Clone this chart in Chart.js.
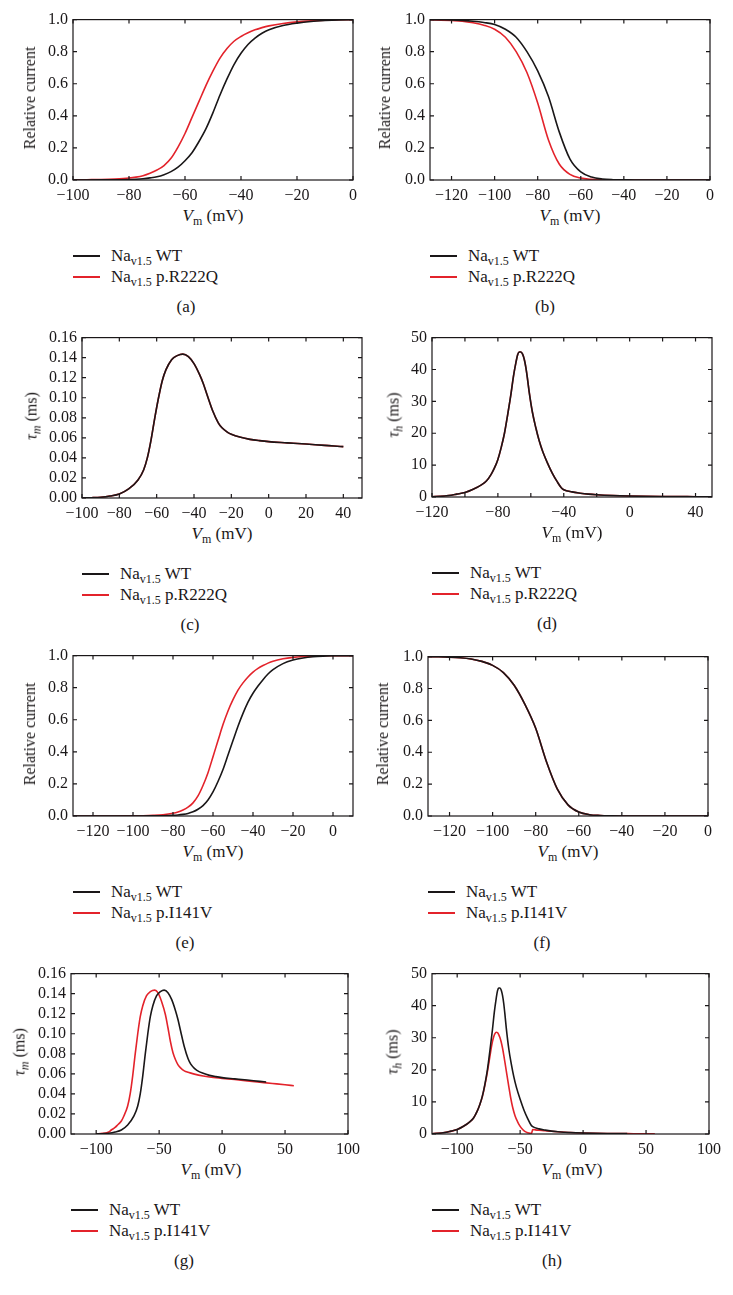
<!DOCTYPE html>
<html>
<head>
<meta charset="utf-8">
<script src="https://cdn.jsdelivr.net/npm/chart.js@4.4.1/dist/chart.umd.min.js"></script>
<style>
body { margin: 0; background: #fff; }
#page { position: relative; width: 733px; height: 1295px; overflow: hidden; font-family: "Liberation Serif", "DejaVu Serif", serif; color: #1a1718; }
canvas { position: absolute; }
.t { position: absolute; white-space: nowrap; font-size: 17px; line-height: 20px; }
.t.yt { font-size: 16px; }
.sub { font-size: 12px; position: relative; top: 4px; }
.ln { position: absolute; height: 1.6px; width: 27px; }
</style>
</head>
<body>
<div id="page"></div>
<script>
// ---- data ----
// (a) activation, WT vs p.R222Q
const vA = [-100,-95,-90,-85,-80,-77.5,-75,-72.5,-70,-67.5,-65,-62.5,-60,-57.5,-55,-52.5,-50,-47.5,-45,-42.5,-40,-37.5,-35,-32.5,-30,-25,-20,-15,-10,-5,0];
const actWT_a = [0,0.0003,0.0008,0.0015,0.003,0.005,0.008,0.013,0.02,0.033,0.052,0.08,0.12,0.17,0.24,0.32,0.42,0.53,0.63,0.72,0.79,0.845,0.885,0.915,0.937,0.963,0.978,0.988,0.994,0.998,1];
const actR222Q_a = [0.001,0.002,0.003,0.006,0.012,0.018,0.027,0.042,0.062,0.09,0.135,0.205,0.29,0.39,0.49,0.59,0.68,0.76,0.82,0.865,0.895,0.918,0.936,0.95,0.961,0.976,0.986,0.992,0.996,0.999,1];

// (b) inactivation, WT vs p.R222Q
const vB = [-130,-125,-120,-115,-110,-105,-100,-95,-90,-85,-80,-75,-70,-65,-60,-55,-50,-45,-40,-35,-30,-25,-20,-15,-10,-5,0];
const inactWT_b = [1,0.999,0.998,0.995,0.99,0.982,0.97,0.94,0.89,0.8,0.68,0.52,0.3,0.13,0.05,0.018,0.006,0.002,0.001,0,0,0,0,0,0,0,0];
const inactR222Q_b = [0.999,0.997,0.994,0.99,0.98,0.965,0.94,0.89,0.8,0.67,0.48,0.25,0.1,0.035,0.012,0.004,0.001,0,0,0,0,0,0,0,0,0,0];

// (c)/(g) tau_m, WT
const vTmWT = [-100,-95,-90,-85,-80,-75,-70,-67,-65,-63,-61,-59,-57,-55,-52,-49,-46,-43,-40,-37,-35,-33,-30,-27,-25,-22,-20,-15,-10,-5,0,10,20,30,35,40];
const tauMWT = [0,0.0003,0.0008,0.002,0.004,0.009,0.018,0.028,0.040,0.058,0.080,0.100,0.117,0.128,0.138,0.142,0.1435,0.141,0.134,0.123,0.114,0.103,0.087,0.075,0.070,0.0655,0.0635,0.0605,0.0585,0.0572,0.0562,0.0550,0.0538,0.0525,0.0519,0.0512];

// (d)/(h) tau_h, WT
const vThWT = [-120,-115,-110,-105,-100,-95,-90,-87,-84,-82,-80,-78,-76,-74,-72,-70.5,-69,-68,-67,-66,-65,-64,-63,-62,-61,-59,-57,-55,-53,-50,-47,-44,-41.5,-40,-35,-30,-25,-20,-10,0,10,20,30,35,40,50];
const tauHWT = [0.1,0.2,0.45,0.9,1.4,2.4,3.8,5.0,7.2,9.2,11.8,15.5,20,26,32.5,38,42.3,44.6,45.5,45.5,44.8,43.2,40.6,37,33,26.5,21.8,17.8,14.6,10.8,7.5,4.8,2.9,2.3,1.6,1.2,0.9,0.7,0.45,0.3,0.2,0.15,0.12,0.11,0.1,0.08];

// (e) activation, WT vs p.I141V
const vE = [-130,-120,-110,-100,-95,-90,-85,-80,-77.5,-75,-72.5,-70,-67.5,-65,-62.5,-60,-57.5,-55,-52.5,-50,-47.5,-45,-42.5,-40,-37.5,-35,-32.5,-30,-25,-20,-15,-10,-5,0,5,10];
const actWT_e = [0,0,0,0,0,0.0008,0.0018,0.004,0.006,0.01,0.016,0.026,0.042,0.065,0.1,0.15,0.215,0.29,0.38,0.47,0.56,0.64,0.71,0.765,0.81,0.85,0.885,0.912,0.95,0.972,0.985,0.993,0.997,0.999,1,1];
const actI141V_e = [0,0,0,0.001,0.002,0.004,0.008,0.017,0.025,0.037,0.055,0.082,0.125,0.19,0.27,0.37,0.47,0.57,0.655,0.725,0.785,0.83,0.867,0.897,0.92,0.938,0.953,0.965,0.98,0.989,0.994,0.997,0.999,1,1,1];

// (f) inactivation, WT and p.I141V overlap
const inact_f = [1,0.999,0.997,0.993,0.985,0.97,0.945,0.9,0.82,0.7,0.55,0.34,0.17,0.07,0.025,0.008,0.003,0.001,0,0,0,0,0,0,0,0,0];

// (g) tau_m, p.I141V
const vTmI141V = [-100,-95,-90,-88,-85,-83,-80,-78,-75,-73,-71,-69,-67,-65,-63,-60,-57,-53.5,-51,-48,-45,-43,-41,-39,-37,-35,-33,-30,-27,-22,-15,-10,0,10,20,30,40,50,57];
const tauMI141V = [0,0.0006,0.002,0.004,0.0065,0.009,0.013,0.018,0.028,0.040,0.058,0.080,0.100,0.117,0.128,0.138,0.142,0.1435,0.141,0.132,0.119,0.106,0.092,0.081,0.074,0.069,0.066,0.063,0.0615,0.0597,0.0578,0.0568,0.0555,0.0543,0.0530,0.0517,0.0504,0.0491,0.0482];

// (h) tau_h, p.I141V
const vThI141V = [-120,-110,-100,-95,-90,-87,-84,-82,-80,-78,-76,-74,-72.5,-71,-70,-69,-68,-67,-66,-65,-64,-63,-62,-60.5,-59,-57.5,-56,-54,-52,-50.5,-48,-46,-44,-42,-41,-40,-38,-35,-30,-25,-20,-10,0,10,20,30,40,50,57];
const tauHI141V = [0.1,0.45,1.4,2.4,3.8,5.0,7.2,9.2,11.7,15.2,19.4,24.2,27.8,30.3,31.3,31.7,31.6,31,30,28.6,26.8,24.6,22.2,18.4,14.8,11.3,8.4,5.6,3.8,2.7,1.4,0.75,0.4,0.22,0.2,1.35,1.3,1.2,1.0,0.85,0.7,0.45,0.3,0.2,0.15,0.12,0.1,0.08,0.07];

// tick labels
const ticksA = [-100,-80,-60,-40,-20,0];
const ticksB = [-120,-100,-80,-60,-40,-20,0];
const ticksC = [-100,-80,-60,-40,-20,0,20,40];
const ticksD = [-120,-100,-80,-60,-40,-20,0,20,40];
const ticksG = [-100,-50,0,50,100];
const relTicks = [0,0.2,0.4,0.6,0.8,1.0];
const tauMTicks = [0,0.02,0.04,0.06,0.08,0.10,0.12,0.14,0.16];
const tauHTicks = [0,10,20,30,40,50];

// ---- drawing ----
const ink = '#1a1718';
const red = '#e3232b';
const serif = '"Liberation Serif", "DejaVu Serif", serif';
const page = document.getElementById('page');

function pts(xs, ys, maxX) {
    const out = [];
    for (let i = 0; i < xs.length; i++) {
        if (maxX === undefined || xs[i] <= maxX) out.push({ x: xs[i], y: ys[i] });
    }
    return out;
}

function fmtX(v) {
    return v < 0 ? '\u2212' + Math.abs(v) : String(v);
}

// box around the plot with inward tick marks on all four sides
const frame = {
    id: 'frame',
    afterDraw(chart) {
        const { ctx, chartArea: a, scales } = chart;
        ctx.save();
        ctx.strokeStyle = ink;
        ctx.lineWidth = 1.2;
        ctx.strokeRect(a.left, a.top, a.right - a.left, a.bottom - a.top);
        ctx.beginPath();
        scales.x.ticks.forEach(t => {
            const p = scales.x.getPixelForValue(t.value);
            ctx.moveTo(p, a.bottom); ctx.lineTo(p, a.bottom - 4);
            ctx.moveTo(p, a.top); ctx.lineTo(p, a.top + 4);
        });
        scales.y.ticks.forEach(t => {
            const p = scales.y.getPixelForValue(t.value);
            ctx.moveTo(a.left, p); ctx.lineTo(a.left + 4, p);
            ctx.moveTo(a.right, p); ctx.lineTo(a.right - 4, p);
        });
        ctx.stroke();
        ctx.restore();
    }
};

const relTitle = 'Relative current';
const tauMTitle = '<i>\u03c4<span class="sub">m</span></i> (ms)';
const tauHTitle = '<i>\u03c4<span class="sub">h</span></i> (ms)';

const panels = [
    { L: 73, R: 353, T: 15, B: 180, xMin: -100, xMax: 0, xTicks: ticksA, yMax: 1, yTicks: relTicks, yDec: 1,
      yTitle: relTitle, yTitleX: 30, mut: 'p.R222Q', cap: '(a)', capX: 186,
      wt: pts(vA, actWT_a), mu: pts(vA, actR222Q_a) },
    { L: 430, R: 710, T: 15, B: 180, xMin: -130, xMax: 0, xTicks: ticksB, yMax: 1, yTicks: relTicks, yDec: 1,
      yTitle: relTitle, yTitleX: 385, mut: 'p.R222Q', cap: '(b)', capX: 545,
      wt: pts(vB, inactWT_b), mu: pts(vB, inactR222Q_b) },
    { L: 82, R: 362, T: 333, B: 498, xMin: -100, xMax: 50, xTicks: ticksC, yMax: 0.16, yTicks: tauMTicks, yDec: 2,
      yTitle: tauMTitle, yTitleX: 32, mut: 'p.R222Q', cap: '(c)', capX: 190,
      wt: pts(vTmWT, tauMWT), mu: pts(vTmWT, tauMWT) },
    { L: 432, R: 712, T: 333, B: 497, xMin: -120, xMax: 50, xTicks: ticksD, labelEvery: 40, yMax: 50, yTicks: tauHTicks, yDec: 0,
      yTitle: tauHTitle, yTitleX: 394, mut: 'p.R222Q', cap: '(d)', capX: 547,
      wt: pts(vThWT, tauHWT), mu: pts(vThWT, tauHWT) },
    { L: 73, R: 353, T: 651, B: 816, xMin: -130, xMax: 10, xTicks: ticksB, yMax: 1, yTicks: relTicks, yDec: 1,
      yTitle: relTitle, yTitleX: 30, mut: 'p.I141V', cap: '(e)', capX: 185,
      wt: pts(vE, actWT_e), mu: pts(vE, actI141V_e) },
    { L: 428, R: 708, T: 652, B: 816, xMin: -130, xMax: 0, xTicks: ticksB, yMax: 1, yTicks: relTicks, yDec: 1,
      yTitle: relTitle, yTitleX: 383, mut: 'p.I141V', cap: '(f)', capX: 542,
      wt: pts(vB, inact_f), mu: pts(vB, inact_f) },
    { L: 71, R: 351, T: 969, B: 1134, xMin: -120, xMax: 100, xTicks: ticksG, yMax: 0.16, yTicks: tauMTicks, yDec: 2,
      yTitle: tauMTitle, yTitleX: 20, mut: 'p.I141V', cap: '(g)', capX: 184,
      wt: pts(vTmWT, tauMWT, 35), mu: pts(vTmI141V, tauMI141V) },
    { L: 432, R: 712, T: 969, B: 1134, xMin: -120, xMax: 100, xTicks: ticksG, yMax: 50, yTicks: tauHTicks, yDec: 0,
      yTitle: tauHTitle, yTitleX: 393, mut: 'p.I141V', cap: '(h)', capX: 552,
      wt: pts(vThWT, tauHWT, 35), mu: pts(vThI141V, tauHI141V) }
];

function addText(html, left, top, extra, cls) {
    const d = document.createElement('div');
    d.className = 't' + (cls ? ' ' + cls : '');
    d.innerHTML = html;
    d.style.left = left + 'px';
    d.style.top = top + 'px';
    if (extra) d.style.transform = extra;
    page.appendChild(d);
    return d;
}

panels.forEach(p => {
    const cv = document.createElement('canvas');
    const w = p.R - p.L + 75;
    const h = p.B - p.T + 35;
    cv.width = w; cv.height = h;
    cv.style.left = (p.L - 60) + 'px';
    cv.style.top = (p.T - 10) + 'px';
    cv.style.width = w + 'px';
    cv.style.height = h + 'px';
    page.appendChild(cv);

    new Chart(cv.getContext('2d'), {
        type: 'line',
        data: {
            datasets: [
                { label: 'WT', data: p.wt, borderColor: ink, borderWidth: 1.6, pointRadius: 0, fill: false, cubicInterpolationMode: 'monotone' },
                { label: p.mut, data: p.mu, borderColor: red, borderWidth: 1.6, pointRadius: 0, fill: false, cubicInterpolationMode: 'monotone' }
            ]
        },
        options: {
            responsive: false,
            animation: false,
            events: [],
            layout: { padding: { left: 0, right: 15, top: 10, bottom: 0 } },
            plugins: { legend: { display: false }, tooltip: { enabled: false } },
            scales: {
                x: {
                    type: 'linear', min: p.xMin, max: p.xMax,
                    grid: { display: false, drawTicks: false },
                    border: { display: false },
                    afterBuildTicks: s => { s.ticks = p.xTicks.map(v => ({ value: v })); },
                    afterFit: s => { s.height = 25; },
                    ticks: {
                        autoSkip: false, maxRotation: 0, padding: 6, color: ink,
                        font: { family: serif, size: 16 },
                        callback: v => (p.labelEvery && v % p.labelEvery !== 0) ? '' : fmtX(v)
                    }
                },
                y: {
                    type: 'linear', min: 0, max: p.yMax,
                    grid: { display: false, drawTicks: false },
                    border: { display: false },
                    afterBuildTicks: s => { s.ticks = p.yTicks.map(v => ({ value: v })); },
                    afterFit: s => { s.width = 60; },
                    ticks: {
                        autoSkip: false, padding: 5, color: ink,
                        font: { family: serif, size: 16 },
                        callback: v => v.toFixed(p.yDec)
                    }
                }
            }
        },
        plugins: [frame]
    });

    // axis titles
    addText('<i>V</i><span class="sub">m</span> (mV)', (p.L + p.R) / 2, p.B + 36, 'translate(-50%,-50%)');
    addText(p.yTitle, p.yTitleX, (p.T + p.B) / 2, 'translate(-50%,-50%) rotate(-90deg)', 'yt');

    // legend
    const rows = [['WT', ink], [p.mut, red]];
    rows.forEach((r, i) => {
        const y = p.B + 76 + i * 21;
        const ln = document.createElement('div');
        ln.className = 'ln';
        ln.style.left = p.L + 'px';
        ln.style.top = (y - 0.8) + 'px';
        ln.style.background = r[1];
        page.appendChild(ln);
        addText('Na<span class="sub">v1.5</span> ' + r[0], p.L + 38, y - 10);
    });

    // caption
    addText(p.cap, p.capX, p.B + 127, 'translate(-50%,-50%)');
});
</script>
</body>
</html>
